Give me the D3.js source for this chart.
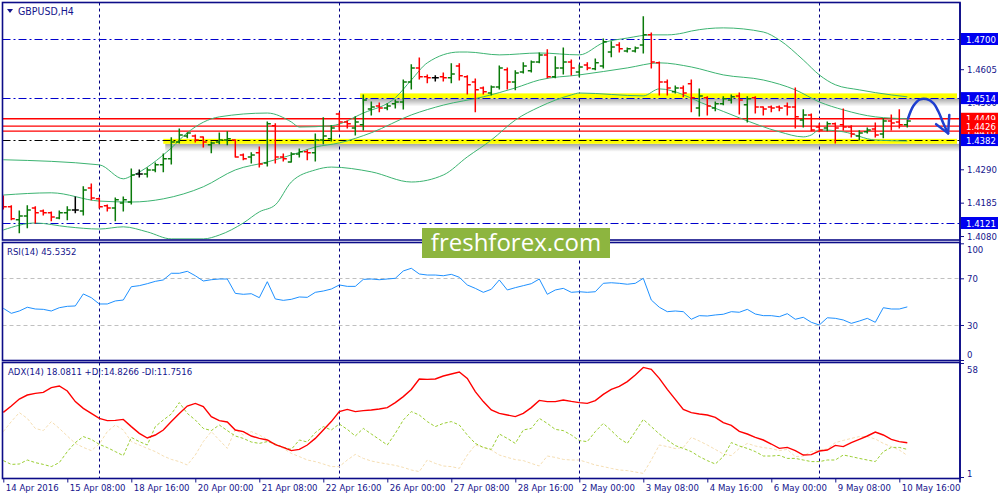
<!DOCTYPE html>
<html>
<head>
<meta charset="utf-8">
<script src="https://cdn.jsdelivr.net/npm/d3@7"></script>
<style>
body { margin: 0; background: #fff; }
svg text { font-family: "DejaVu Sans Condensed", "DejaVu Sans", sans-serif; }
</style>
</head>
<body>
<div id="chart"></div>
<script>
// GBPUSD H4 bars, 14 Apr 2016 00:00 .. 10 May 2016 20:00
var openP = [1.4200,1.4172,1.4131,1.4143,1.4168,1.4159,1.4153,1.4137,1.4153,1.4162,
  1.4159,1.4231,1.4197,1.4175,1.4168,1.4184,1.4187,1.4275,1.4275,1.4288,
  1.4304,1.4323,1.4376,1.4395,1.4395,1.4392,1.4367,1.4376,1.4382,1.4382,
  1.4335,1.4329,1.4342,1.4310,1.4427,1.4329,1.4313,1.4338,1.4345,1.4342,
  1.4382,1.4386,1.4464,1.4439,1.4420,1.4430,1.4480,1.4489,1.4483,1.4496,
  1.4502,1.4565,1.4609,1.4581,1.4578,1.4581,1.4578,1.4615,1.4581,1.4565,
  1.4546,1.4530,1.4549,1.4603,1.4565,1.4596,1.4600,1.4628,1.4650,1.4581,
  1.4609,1.4628,1.4596,1.4618,1.4606,1.4615,1.4659,1.4681,1.4662,1.4662,
  1.4681,1.4713,1.4625,1.4565,1.4534,1.4546,1.4559,1.4483,1.4515,1.4483,
  1.4496,1.4508,1.4521,1.4493,1.4515,1.4486,1.4486,1.4486,1.4489,1.4486,
  1.4445,1.4461,1.4423,1.4420,1.4433,1.4430,1.4423,1.4395,1.4408,1.4417,
  1.4401,1.4442,1.4439,1.4430];
var highP = [1.4206,1.4175,1.4159,1.4175,1.4172,1.4162,1.4156,1.4159,1.4172,1.4203,
  1.4235,1.4244,1.4200,1.4178,1.4200,1.4203,1.4291,1.4288,1.4294,1.4310,
  1.4338,1.4389,1.4417,1.4404,1.4398,1.4392,1.4376,1.4404,1.4408,1.4382,
  1.4338,1.4342,1.4360,1.4439,1.4433,1.4338,1.4342,1.4354,1.4351,1.4401,
  1.4452,1.4427,1.4467,1.4442,1.4455,1.4524,1.4502,1.4499,1.4496,1.4508,
  1.4571,1.4619,1.4640,1.4587,1.4584,1.4593,1.4622,1.4622,1.4584,1.4574,
  1.4549,1.4552,1.4615,1.4609,1.4600,1.4625,1.4631,1.4656,1.4666,1.4644,
  1.4672,1.4634,1.4618,1.4625,1.4637,1.4700,1.4691,1.4688,1.4672,1.4675,
  1.4770,1.4719,1.4628,1.4571,1.4552,1.4552,1.4571,1.4543,1.4518,1.4502,
  1.4518,1.4524,1.4530,1.4518,1.4518,1.4486,1.4489,1.4489,1.4499,1.4546,
  1.4477,1.4464,1.4433,1.4439,1.4436,1.4480,1.4427,1.4411,1.4420,1.4436,
  1.4449,1.4461,1.4477,1.4445];
var lowP = [1.4165,1.4131,1.4090,1.4106,1.4121,1.4146,1.4128,1.4134,1.4131,1.4153,
  1.4146,1.4194,1.4168,1.4159,1.4128,1.4159,1.4181,1.4266,1.4266,1.4282,
  1.4282,1.4307,1.4373,1.4389,1.4376,1.4360,1.4342,1.4370,1.4367,1.4329,
  1.4320,1.4310,1.4297,1.4300,1.4310,1.4316,1.4313,1.4329,1.4320,1.4316,
  1.4370,1.4379,1.4414,1.4420,1.4398,1.4414,1.4461,1.4471,1.4477,1.4483,
  1.4480,1.4543,1.4574,1.4562,1.4568,1.4568,1.4562,1.4571,1.4527,1.4471,
  1.4527,1.4524,1.4543,1.4543,1.4540,1.4593,1.4596,1.4625,1.4578,1.4578,
  1.4590,1.4587,1.4581,1.4603,1.4603,1.4609,1.4644,1.4659,1.4659,1.4659,
  1.4656,1.4609,1.4524,1.4524,1.4530,1.4518,1.4471,1.4458,1.4461,1.4474,
  1.4493,1.4499,1.4464,1.4439,1.4467,1.4461,1.4471,1.4474,1.4461,1.4420,
  1.4423,1.4411,1.4408,1.4411,1.4373,1.4414,1.4392,1.4382,1.4404,1.4392,
  1.4389,1.4414,1.4420,1.4423];
var closeP = [1.4172,1.4134,1.4143,1.4162,1.4153,1.4153,1.4140,1.4153,1.4162,1.4162,
  1.4225,1.4200,1.4172,1.4168,1.4194,1.4194,1.4272,1.4275,1.4288,1.4304,
  1.4323,1.4376,1.4398,1.4404,1.4382,1.4376,1.4373,1.4382,1.4386,1.4329,
  1.4323,1.4335,1.4307,1.4433,1.4329,1.4323,1.4338,1.4345,1.4342,1.4382,
  1.4395,1.4420,1.4439,1.4433,1.4439,1.4508,1.4486,1.4483,1.4489,1.4502,
  1.4565,1.4609,1.4581,1.4578,1.4578,1.4578,1.4590,1.4584,1.4556,1.4540,
  1.4534,1.4549,1.4609,1.4565,1.4593,1.4615,1.4628,1.4650,1.4581,1.4609,
  1.4628,1.4609,1.4612,1.4609,1.4625,1.4691,1.4675,1.4669,1.4669,1.4672,
  1.4713,1.4628,1.4565,1.4546,1.4546,1.4530,1.4515,1.4521,1.4489,1.4496,
  1.4512,1.4518,1.4508,1.4512,1.4486,1.4480,1.4483,1.4483,1.4486,1.4455,
  1.4461,1.4414,1.4414,1.4433,1.4420,1.4423,1.4401,1.4404,1.4414,1.4398,
  1.4442,1.4436,1.4430,1.4442];

// Bollinger bands (20), read as [bar, price]
var bbUpper = [[0,1.4320],[12,1.4304],[15,1.4260],[16,1.4269],[21,1.4357],[23,1.4405],[27,1.4455],
  [33,1.4467],[36,1.4439],[37,1.4423],[41,1.4427],[45,1.4467],[49,1.4515],[51,1.4571],[53,1.4625],
  [57,1.4659],[58,1.4659],[62,1.4650],[67,1.4656],[72,1.4650],[75,1.4688],[78,1.4703],[81,1.4713],
  [83,1.4713],[85,1.4719],[86,1.4725],[90,1.4735],[95,1.4722],[97,1.4697],[100,1.4634],[102,1.4587],
  [104,1.4556],[107,1.4540],[111,1.4524],[113,1.4518]];
var bbMiddle = [[0,1.4209],[6,1.4216],[12,1.4190],[16,1.4187],[20,1.4197],[25,1.4235],[29,1.4288],
  [33,1.4313],[36,1.4335],[39,1.4360],[42,1.4373],[46,1.4405],[51,1.4461],[55,1.4492],[60,1.4518],
  [64,1.4546],[67,1.4571],[72,1.4587],[78,1.4609],[82,1.4625],[86,1.4612],[90,1.4587],[95,1.4571],
  [99,1.4540],[102,1.4502],[105,1.4477],[109,1.4455],[113,1.4449]];
var bbLower = [[0,1.4099],[4,1.4121],[8,1.4109],[12,1.4102],[15,1.4109],[18,1.4093],[21,1.4071],
  [25,1.4071],[27,1.4083],[30,1.4121],[32,1.4156],[34,1.4178],[36,1.4250],[39,1.4288],[41,1.4297],
  [46,1.4282],[51,1.4250],[55,1.4272],[58,1.4329],[61,1.4382],[64,1.4445],[67,1.4486],[71,1.4524],
  [72,1.4530],[80,1.4521],[82,1.4543],[88,1.4492],[92,1.4452],[97,1.4408],[100,1.4392],[101,1.4398],
  [102,1.4414],[105,1.4408],[109,1.4382],[113,1.4379]];

var rsi = [44.3,40.0,42.0,45.2,43.7,43.4,42.0,44.8,46.0,46.3,
  56.6,53.4,48.0,48.0,50.6,51.4,62.8,63.7,65.4,67.4,
  68.6,74.3,74.3,76.0,72.2,67.7,68.8,69.4,69.4,57.1,
  56.3,56.8,53.4,67.1,52.3,51.1,52.0,54.0,53.7,58.0,
  59.1,60.8,64.3,63.1,63.1,69.1,69.4,68.8,69.4,70.0,
  76.3,78.6,73.7,72.8,72.8,72.2,73.4,70.9,64.3,61.4,
  58.0,60.6,68.6,60.0,62.0,63.7,65.4,69.4,56.3,60.0,
  61.4,58.0,58.5,58.0,58.5,65.7,66.2,65.7,64.9,65.7,
  70.0,51.4,45.2,41.4,42.0,41.4,34.9,38.0,37.7,38.6,
  39.2,41.4,40.9,43.4,39.4,38.0,38.0,37.1,39.7,34.9,
  36.6,32.3,30.0,36.2,35.7,34.3,31.4,33.4,35.7,32.3,
  44.8,43.7,43.7,45.5];

var adx = [33.3,36.5,40.0,42.0,42.8,43.3,45.7,46.5,44.0,38.7,
  35.3,32.8,30.3,29.2,29.3,29.8,26.2,22.8,20.5,22.0,
  24.5,28.7,32.8,36.5,37.8,36.2,31.2,29.2,28.5,24.5,
  23.7,21.5,20.3,19.5,17.2,15.8,14.2,14.8,17.0,20.3,
  24.5,28.7,33.7,34.8,33.7,34.2,34.5,35.0,35.7,38.2,
  41.2,44.8,50.0,49.8,50.0,51.5,52.5,53.5,50.3,43.7,
  38.7,34.5,32.8,32.0,31.2,32.8,35.7,39.3,38.7,38.7,
  39.5,38.8,38.2,37.8,39.2,42.3,44.8,46.3,48.7,52.0,
  55.8,54.8,50.3,44.8,39.8,34.8,33.2,32.5,32.0,30.8,
  28.2,26.8,23.8,22.5,20.8,19.5,17.5,15.3,15.8,14.2,
  12.0,12.2,14.0,14.5,16.8,16.2,18.2,19.8,21.5,23.5,
  22.0,19.8,18.7,18.1];
var plusDI = [9.2,7.3,7.5,9.5,8.2,7.3,6.2,8.2,13.7,18.2,
  21.2,19.8,17.3,15.7,13.7,11.7,20.8,18.7,17.0,26.2,
  29.5,32.5,38.2,32.8,29.5,25.3,24.2,27.0,24.2,21.5,
  20.3,18.5,17.8,18.7,17.5,15.8,14.8,19.5,18.5,23.2,
  26.2,24.5,27.5,24.8,21.5,25.3,22.5,19.8,17.0,22.8,
  29.5,33.7,32.0,28.7,26.2,27.8,28.7,27.0,22.0,17.8,
  15.8,14.8,22.5,20.3,17.8,24.5,25.3,30.3,27.8,24.8,
  24.2,22.0,19.2,18.7,23.7,27.8,24.2,20.3,17.8,23.7,
  29.8,26.2,22.5,19.5,16.7,15.3,13.7,11.2,9.2,7.5,
  11.2,18.2,16.5,15.3,13.7,11.5,11.5,11.8,10.3,10.3,
  9.5,8.7,8.7,9.5,9.5,12.0,11.2,10.3,9.5,8.7,
  13.7,15.8,15.8,14.8];
var minusDI = [23.7,28.7,33.2,30.3,25.3,24.2,28.7,25.3,21.5,17.8,
  15.8,14.2,17.5,23.7,27.0,24.5,18.7,17.0,15.3,13.7,
  11.5,9.8,8.7,7.0,12.0,18.7,23.7,19.5,15.3,24.8,
  22.0,23.7,22.0,19.8,17.5,15.3,12.8,11.2,9.5,8.7,
  7.5,6.2,6.2,9.5,12.3,10.3,9.0,8.2,7.5,6.8,
  5.8,4.5,3.7,9.5,7.8,6.5,6.2,5.3,12.0,17.0,
  15.8,14.5,12.0,10.8,9.7,9.2,7.8,6.5,11.5,10.8,
  9.8,9.5,9.5,8.3,7.0,6.2,5.3,4.5,4.2,3.5,
  2.8,9.5,17.0,16.2,15.2,15.8,20.8,19.0,17.0,14.8,
  12.5,11.7,15.3,17.8,16.5,15.7,15.2,14.2,14.8,11.2,
  11.5,13.7,14.5,15.0,18.2,19.3,20.3,21.2,21.2,20.0,
  17.8,16.2,14.5,11.75];

var timeLabels = ["14 Apr 2016","15 Apr 08:00","18 Apr 16:00","20 Apr 00:00","21 Apr 08:00",
  "22 Apr 16:00","26 Apr 00:00","27 Apr 08:00","28 Apr 16:00","2 May 00:00","3 May 08:00",
  "4 May 16:00","6 May 00:00","9 May 08:00","10 May 16:00"];
var timeTickBars = [0,8,16,24,32,40,48,56,64,72,80,88,96,104,112];
var weekStartBars = [12,42,72,102];
var priceTicks = [1.4080,1.4185,1.4290,1.4500,1.4605];
var rsiTicks = [100,70,30,0];
var rsiLevels = [70,30];
var adxTicks = [58,1];

var blueLevels = [1.4700,1.4514,1.4121];
var blackLevels = [1.4382];
var redLevels = [1.4449,1.4410,1.4426];
var yellowZones = [[20,1.4378],[44.6,1.4521]];   // [start bar, price]
var arrowCurve = [[113.1,1.4450],[113.75,1.4489],[114.6,1.4510],[115.4,1.4511],[116.25,1.4498],
  [116.9,1.4471],[117.5,1.4435],[118.1,1.4403]];
var arrowHead = [[116.6,1.4432],[118.1,1.4403],[118.25,1.4461]];

var navy = "#14148c";
var svgWidth = 1000, svgHeight = 500;
var left = 2.5, right = 960;
var pricePanel = {top: 2.5, bottom: 240};
var rsiPanel = {top: 242.5, bottom: 360.5};
var adxPanel = {top: 362.5, bottom: 478.5};

var svg = d3.select("#chart").append("svg")
  .attr("width", svgWidth)
  .attr("height", svgHeight);

var x = d3.scaleLinear().domain([0, 113]).range([3.3, 907.3]);
var yPrice = d3.scaleLinear().domain([1.4121, 1.4700]).range([223, 39]);
var yRsi = d3.scaleLinear().domain([0, 100]).range([360, 243.3]);
var yAdx = d3.scaleLinear().domain([1, 58]).range([477, 363]);

var defs = svg.append("defs");
[["clipPrice", pricePanel], ["clipRsi", rsiPanel], ["clipAdx", adxPanel]].forEach(function(c) {
  defs.append("clipPath").attr("id", c[0]).append("rect")
    .attr("x", left).attr("y", c[1].top)
    .attr("width", right - left).attr("height", c[1].bottom - c[1].top);
});
var grad = defs.append("linearGradient").attr("id", "shadow")
  .attr("x1", 0).attr("y1", 0).attr("x2", 0).attr("y2", 1);
grad.append("stop").attr("offset", "0%").attr("stop-color", "#000").attr("stop-opacity", 0.35);
grad.append("stop").attr("offset", "100%").attr("stop-color", "#000").attr("stop-opacity", 0);

// week separators
svg.append("g").selectAll("line")
  .data(weekStartBars)
  .enter()
  .append("line")
  .attr("x1", d => Math.round(x(d)) + 0.5).attr("x2", d => Math.round(x(d)) + 0.5)
  .attr("y1", pricePanel.top).attr("y2", adxPanel.bottom)
  .attr("stroke", "#000080").attr("stroke-dasharray", "3,3");

// ---------- price panel ----------
var priceG = svg.append("g").attr("clip-path", "url(#clipPrice)");

// yellow zones with a soft shadow
yellowZones.forEach(function(z) {
  var yz = yPrice(z[1]);
  priceG.append("rect")
    .attr("x", x(z[0]) + 2).attr("y", yz + 2.5)
    .attr("width", 957 - x(z[0])).attr("height", 8)
    .attr("fill", "url(#shadow)");
  priceG.append("rect")
    .attr("x", x(z[0])).attr("y", yz - 2.5)
    .attr("width", 957 - x(z[0])).attr("height", 5)
    .attr("fill", "#ffff00");
});

priceG.selectAll("line.blue")
  .data(blueLevels)
  .enter()
  .append("line")
  .attr("x1", left).attr("x2", right)
  .attr("y1", d => Math.round(yPrice(d)) + 0.5).attr("y2", d => Math.round(yPrice(d)) + 0.5)
  .attr("stroke", "#0000cd").attr("stroke-dasharray", "8,3,2,3");

priceG.selectAll("line.black")
  .data(blackLevels)
  .enter()
  .append("line")
  .attr("x1", left).attr("x2", right)
  .attr("y1", d => Math.round(yPrice(d)) + 0.5).attr("y2", d => Math.round(yPrice(d)) + 0.5)
  .attr("stroke", "#000").attr("stroke-dasharray", "8,3,2,3");

priceG.selectAll("line.red")
  .data(redLevels)
  .enter()
  .append("line")
  .attr("x1", left).attr("x2", right)
  .attr("y1", d => yPrice(d)).attr("y2", d => yPrice(d))
  .attr("stroke", "#ff0000").attr("stroke-width", 1.3);

// Bollinger bands
var bandLine = d3.line()
  .x(d => x(d[0]))
  .y(d => yPrice(d[1]))
  .curve(d3.curveMonotoneX);
[bbUpper, bbMiddle, bbLower].forEach(function(b) {
  priceG.append("path")
    .attr("d", bandLine(b))
    .attr("fill", "none")
    .attr("stroke", "#3cb371")
    .attr("stroke-width", 1);
});

// OHLC bars
var idx = d3.range(openP.length);
function barColor(i) {
  if (closeP[i] > openP[i]) return "#0a7a0a";
  if (closeP[i] < openP[i]) return "#ff0000";
  return "#000000";
}
var barG = priceG.append("g").attr("stroke-width", 1.5);
barG.selectAll("line.hl")
  .data(idx)
  .enter()
  .append("line")
  .attr("x1", i => x(i)).attr("x2", i => x(i))
  .attr("y1", i => yPrice(highP[i]) - 0.5).attr("y2", i => yPrice(lowP[i]) + 0.5)
  .attr("stroke", barColor);
barG.selectAll("line.op")
  .data(idx)
  .enter()
  .append("line")
  .attr("x1", i => x(i) - 3.5).attr("x2", i => x(i))
  .attr("y1", i => yPrice(openP[i])).attr("y2", i => yPrice(openP[i]))
  .attr("stroke", barColor);
barG.selectAll("line.cl")
  .data(idx)
  .enter()
  .append("line")
  .attr("x1", i => x(i)).attr("x2", i => x(i) + 3.5)
  .attr("y1", i => yPrice(closeP[i])).attr("y2", i => yPrice(closeP[i]))
  .attr("stroke", barColor);

// hand-drawn forecast arrow
var arrowLine = d3.line().x(d => x(d[0])).y(d => yPrice(d[1])).curve(d3.curveCatmullRom);
priceG.append("path")
  .attr("d", arrowLine(arrowCurve))
  .attr("fill", "none").attr("stroke", "#1f3fcf").attr("stroke-width", 2.5)
  .attr("stroke-linecap", "round");
priceG.append("path")
  .attr("d", d3.line().x(d => x(d[0])).y(d => yPrice(d[1]))(arrowHead))
  .attr("fill", "none").attr("stroke", "#1f3fcf").attr("stroke-width", 2.5)
  .attr("stroke-linecap", "round").attr("stroke-linejoin", "round");

// ---------- RSI panel ----------
var rsiG = svg.append("g").attr("clip-path", "url(#clipRsi)");
rsiG.selectAll("line")
  .data(rsiLevels)
  .enter()
  .append("line")
  .attr("x1", left).attr("x2", right)
  .attr("y1", d => Math.round(yRsi(d)) + 0.5).attr("y2", d => Math.round(yRsi(d)) + 0.5)
  .attr("stroke", "#c0c0c0").attr("stroke-dasharray", "4,3");
rsiG.append("path")
  .attr("d", d3.line().x((d, i) => x(i)).y(d => yRsi(d))(rsi))
  .attr("fill", "none").attr("stroke", "#1e90ff").attr("stroke-width", 1);

// ---------- ADX panel ----------
var adxG = svg.append("g").attr("clip-path", "url(#clipAdx)");
var adxLine = d3.line().x((d, i) => x(i)).y(d => yAdx(d));
adxG.append("path").attr("d", adxLine(minusDI))
  .attr("fill", "none").attr("stroke", "#f5deb3").attr("stroke-dasharray", "3,2");
adxG.append("path").attr("d", adxLine(plusDI))
  .attr("fill", "none").attr("stroke", "#9acd32").attr("stroke-dasharray", "3,2");
adxG.append("path").attr("d", adxLine(adx))
  .attr("fill", "none").attr("stroke", "#ff0000").attr("stroke-width", 1.4);

// panel frames
[pricePanel, rsiPanel, adxPanel].forEach(function(p) {
  svg.append("rect")
    .attr("x", left).attr("y", p.top)
    .attr("width", right - left).attr("height", p.bottom - p.top)
    .attr("fill", "none").attr("stroke", "#0c0c88").attr("stroke-width", 1.6);
});

// panel captions
svg.append("path").attr("d", "M7,9L13,9L10,13Z").attr("fill", navy);
svg.append("text").attr("x", 18).attr("y", 15).attr("fill", navy)
  .style("font-size", "10.5px").text("GBPUSD,H4");
svg.append("text").attr("x", 7).attr("y", 255).attr("fill", navy)
  .style("font-size", "9.5px").text("RSI(14) 45.5352");
svg.append("text").attr("x", 8).attr("y", 375).attr("fill", navy)
  .style("font-size", "9.5px").text("ADX(14) 18.0811 +DI:14.8266 -DI:11.7516");

// ---------- axes ----------
function styleAxis(g) {
  g.select(".domain").remove();
  g.selectAll(".tick line").attr("stroke", navy);
  g.selectAll(".tick text").attr("fill", navy)
    .style("font-size", "9.5px")
    .style("font-family", "'DejaVu Sans Condensed', 'DejaVu Sans', sans-serif");
}

var priceAxis = svg.append("g")
  .attr("transform", `translate(${right}, 0)`)
  .call(d3.axisRight(yPrice).tickValues(priceTicks).tickSize(4).tickPadding(3).tickFormat(d3.format(".4f")));
styleAxis(priceAxis);

var rsiAxis = svg.append("g")
  .attr("transform", `translate(${right}, 0)`)
  .call(d3.axisRight(yRsi).tickValues(rsiTicks).tickSize(4).tickPadding(3));
styleAxis(rsiAxis);
rsiAxis.selectAll(".tick text").attr("dy", d => d === 100 ? "0.95em" : d === 0 ? "-0.3em" : "0.32em");

var adxAxis = svg.append("g")
  .attr("transform", `translate(${right}, 0)`)
  .call(d3.axisRight(yAdx).tickValues(adxTicks).tickSize(4).tickPadding(3));
styleAxis(adxAxis);
adxAxis.selectAll(".tick text").attr("dy", d => d === 58 ? "1em" : "-0.1em");

var timeAxis = svg.append("g")
  .attr("transform", `translate(0, ${adxPanel.bottom})`)
  .call(d3.axisBottom(x).tickValues(timeTickBars).tickSize(4)
    .tickFormat((d, i) => timeLabels[i]));
styleAxis(timeAxis);
timeAxis.selectAll(".tick text")
  .attr("text-anchor", "start").attr("x", 2).attr("y", 6).attr("dy", "0.71em");

svg.append("line")
  .attr("x1", right).attr("x2", right).attr("y1", pricePanel.top).attr("y2", adxPanel.bottom + 4)
  .attr("stroke", "#0c0c88").attr("stroke-width", 1.6);

// level price tags on the right scale
function priceTag(p, fill) {
  var yy = yPrice(p);
  svg.append("rect")
    .attr("x", right + 1).attr("y", yy - 6)
    .attr("width", 37).attr("height", 12)
    .attr("fill", fill);
  svg.append("text")
    .attr("x", right + 6).attr("y", yy + 3.5)
    .attr("fill", "#fff").style("font-size", "9.5px")
    .text(d3.format(".4f")(p));
}
redLevels.forEach(p => priceTag(p, "#ff0000"));
blueLevels.concat(blackLevels).forEach(p => priceTag(p, "#0000f0"));

// watermark
svg.append("rect")
  .attr("x", 422).attr("y", 228).attr("width", 188).attr("height", 30)
  .attr("fill", "#8db53f");
svg.append("text")
  .attr("x", 516).attr("y", 251)
  .attr("text-anchor", "middle")
  .attr("fill", "#fff")
  .style("font-family", "'Open Sans', sans-serif")
  .style("font-size", "24px")
  .text("freshforex.com");
</script>
</body>
</html>
